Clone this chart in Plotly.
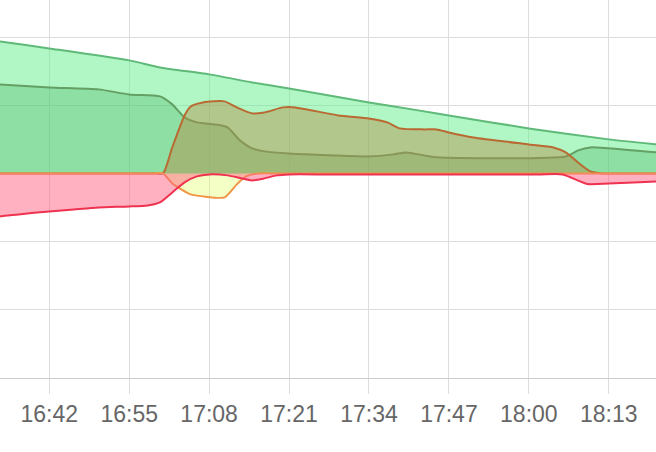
import plotly.graph_objects as go

DAY = "2024-01-01 "

# Series 1: top light-green area
t1 = ["16:30", "16:34", "16:42", "16:55", "17:00", "17:08", "17:15", "17:21", "17:34", "17:42", "17:47", "18:00", "18:13", "18:21", "18:25"]
v1 = [1.99, 1.935, 1.833, 1.657, 1.554, 1.452, 1.334, 1.246, 1.041, 0.924, 0.850, 0.660, 0.499, 0.425, 0.39]

# Series 2: darker green area
t2 = ["16:30", "16:34", "16:42", "16:50", "16:55", "17:00", "17:02", "17:04", "17:06", "17:09", "17:11", "17:13", "17:15", "17:17",
      "17:21", "17:34", "17:38", "17:40", "17:43", "17:45", "18:06", "18:08", "18:10", "18:13", "18:21", "18:25"]
v2 = [1.33, 1.305, 1.261, 1.232, 1.158, 1.129, 1.012, 0.821, 0.748, 0.718, 0.674, 0.484, 0.367, 0.323,
      0.293, 0.249, 0.279, 0.308, 0.264, 0.235, 0.249, 0.337, 0.381, 0.367, 0.308, 0.30]

# Series 3: brown / olive area (positive)
t3 = ["16:30", "16:34", "16:38", "16:42", "16:46", "16:50", "16:54", "16:57", "16:59", "17:00:30", "17:02", "17:04", "17:05", "17:07",
      "17:10:30", "17:12:30", "17:15", "17:17", "17:20", "17:22", "17:29", "17:34", "17:37", "17:39", "17:43", "17:45", "17:47",
      "17:51", "18:00", "18:04", "18:06", "18:08", "18:10", "18:12", "18:14", "18:17", "18:21", "18:25"]
v3 = [0, 0, 0, 0, 0, 0, 0, 0, 0, 0, 0.381, 0.85, 0.982, 1.041,
      1.056, 0.968, 0.880, 0.894, 0.968, 0.968, 0.850, 0.806, 0.748, 0.660, 0.645, 0.645, 0.601,
      0.528, 0.425, 0.381, 0.308, 0.161, 0.029, 0, 0, 0, 0, 0]

# Series 4: orange / yellow area (negative)
t4 = ["16:30", "16:34", "16:38", "16:42", "16:46", "16:50", "16:54", "16:57", "16:59", "17:00:30", "17:02", "17:03:30", "17:05",
      "17:07", "17:10:30", "17:12:30", "17:14", "17:16", "17:18", "17:21", "17:26", "17:31", "17:36", "17:41", "17:46", "17:51",
      "17:56", "18:01", "18:06", "18:11", "18:16", "18:21", "18:25"]
v4 = [0, 0, 0, 0, 0, 0, 0, 0, 0, 0, -0.147, -0.235, -0.308,
      -0.337, -0.352, -0.161, -0.044, 0, 0, 0, 0, 0, 0, 0, 0, 0,
      0, 0, 0, 0, 0, 0, 0]

# Series 5: red / pink area (negative)
t5 = ["16:30", "16:34", "16:37", "16:42", "16:46", "16:50", "16:55", "16:58", "17:00", "17:02", "17:04", "17:06", "17:08",
      "17:11", "17:15", "17:17", "17:19", "17:21", "17:27", "17:33", "17:39", "17:45", "17:51", "17:57", "18:02", "18:05:30",
      "18:09:30", "18:13", "18:21", "18:25"]
v5 = [-0.65, -0.630, -0.601, -0.557, -0.528, -0.499, -0.484, -0.469, -0.425, -0.279, -0.132, -0.044, -0.015,
      -0.029, -0.103, -0.073, -0.029, -0.015, -0.015, -0.015, -0.015, -0.015, -0.015, -0.015, -0.015, -0.015,
      -0.154, -0.147, -0.117, -0.11]

tick_labels = ["16:42", "16:55", "17:08", "17:21", "17:34", "17:47", "18:00", "18:13"]

series = [
    (t1, v1, "rgb(95,185,120)", "rgba(98,240,140,0.5)"),
    (t2, v2, "rgb(100,160,100)", "rgba(55,160,75,0.28)"),
    (t3, v3, "rgb(185,105,50)", "rgba(180,140,70,0.45)"),
    (t4, v4, "rgb(240,150,70)", "rgba(225,255,110,0.4)"),
    (t5, v5, "rgb(238,50,80)", "rgba(255,99,132,0.5)"),
]

fig = go.Figure()
for t, v, lc, fc in series:
    fig.add_trace(go.Scatter(
        x=[DAY + s for s in t], y=v, mode="lines",
        line=dict(color=lc, width=2, shape="spline", smoothing=0.6),
        fill="tozeroy", fillcolor=fc, hoverinfo="skip", showlegend=False,
    ))

fig.update_layout(
    width=656, height=452,
    margin=dict(l=0, r=0, t=0, b=74),
    paper_bgcolor="white", plot_bgcolor="white",
    font=dict(family="Liberation Sans, Arial, sans-serif", size=23, color="#666"),
)
fig.update_xaxes(
    type="date",
    range=[DAY + "16:33:59", DAY + "18:20:41"],
    tickvals=[DAY + s for s in tick_labels], ticktext=tick_labels,
    showgrid=True, gridcolor="#dddddd", gridwidth=1,
    ticks="outside", ticklen=15, tickcolor="#dddddd", tickwidth=1,
    showline=True, linecolor="#cccccc", linewidth=1,
    zeroline=False,
)
fig.update_yaxes(
    range=[-3.0, 2.5425], dtick=1, tick0=0,
    showgrid=True, gridcolor="#dddddd", gridwidth=1,
    showticklabels=False, zeroline=False, showline=False,
)
fig.write_html("out.html", config={"displayModeBar": False},
               post_script="document.body.style.margin='0';")
